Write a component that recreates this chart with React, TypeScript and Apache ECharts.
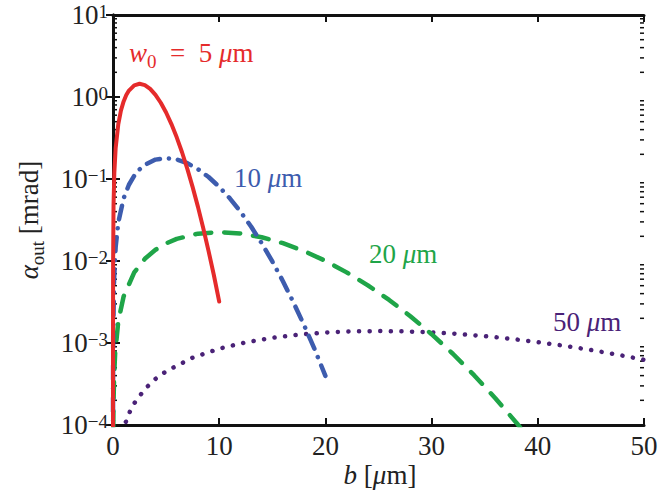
import React, { useEffect, useRef } from "react";
import * as echarts from "echarts";

// ---- data ----
const redB = [0.0001, 0.001, 0.01, 0.05, 0.125, 0.25, 0.5, 0.75, 1, 1.25, 1.5, 2, 2.5, 3, 3.5, 4, 4.5, 5, 5.5, 6, 6.5, 7, 7.5, 8, 8.5, 9, 9.5, 10];
const redA = [9.6e-5, 9.6e-4, 0.0096, 0.0478, 0.119, 0.238, 0.468, 0.686, 0.883, 1.056, 1.198, 1.389, 1.45, 1.396, 1.256, 1.063, 0.851, 0.647, 0.468, 0.322, 0.212, 0.133, 0.0796, 0.0457, 0.0251, 0.0132, 0.0067, 0.0032];

const blueB = [0.001, 0.005, 0.02, 0.1, 0.25, 0.5, 1, 1.5, 2, 2.5, 3, 4, 5, 6, 7, 8, 9, 10, 11, 12, 13, 14, 15, 16, 17, 18, 19, 20];
const blueA = [5.9e-5, 2.97e-4, 1.19e-3, 5.9e-3, 0.0148, 0.0295, 0.0581, 0.0851, 0.1096, 0.131, 0.1487, 0.1724, 0.18, 0.1733, 0.1559, 0.1319, 0.1057, 0.0803, 0.0581, 0.04, 0.0263, 0.0165, 0.00988, 0.00567, 0.00311, 0.00164, 0.00083, 0.000398];

const greenB = [0.005, 0.02, 0.05, 0.1, 0.2, 0.5, 1, 2, 3, 4, 5, 6, 8, 10, 12, 14, 16, 18, 20, 22, 24, 26, 28, 30, 32, 34, 36, 38, 39];
const greenA = [1.85e-5, 7.4e-5, 1.85e-4, 3.7e-4, 7.4e-4, 1.85e-3, 3.69e-3, 7.27e-3, 0.01064, 0.0137, 0.01638, 0.01859, 0.02156, 0.0225, 0.02167, 0.01949, 0.01649, 0.01321, 0.01004, 0.00727, 0.00505, 0.00335, 0.00212, 0.00128, 0.00074, 0.000405, 0.000212, 0.000106, 7.3e-5];

const purpleB = [0.5, 1, 1.5, 2, 3, 4, 5, 7.5, 10, 12.5, 15, 17.5, 20, 22.5, 25, 27.5, 30, 32.5, 35, 37.5, 40, 42.5, 45, 47.5, 50];
const purpleA = [4.6e-5, 9.2e-5, 1.38e-4, 1.84e-4, 2.75e-4, 3.65e-4, 4.52e-4, 6.62e-4, 8.53e-4, 1.019e-3, 1.156e-3, 1.264e-3, 1.341e-3, 1.386e-3, 1.4e-3, 1.386e-3, 1.348e-3, 1.289e-3, 1.212e-3, 1.124e-3, 1.026e-3, 9.25e-4, 8.22e-4, 7.21e-4, 6.24e-4];

const minorMantissas = [2, 3, 4, 5, 6, 7, 8, 9];
const decades = [1e-4, 1e-3, 1e-2, 1e-1, 1];

const xMin = 0;
const xMax = 50;
const xStep = 10;
const yMin = 1e-4;
const yMax = 10;

const RED = "#e52b2b";
const BLUE = "#3d5cae";
const GREEN = "#1fa548";
const PURPLE = "#4a2277";
const INK = "#222";
const FONT = "'Liberation Serif', 'DejaVu Serif', serif";
const SP = "\u00a0";

const zip = (xs: number[], ys: number[]) => xs.map((x, i) => [x, ys[i]]);

const supFmt = (v: number) => {
  const e = Math.round(Math.log10(v));
  const s = e < 0 ? "\u2212" + -e : String(e);
  return `{b|10}{s|${s}}`;
};

const tickRich = {
  b: { fontSize: 27, fontFamily: FONT, color: INK, lineHeight: 26, verticalAlign: "middle" },
  s: { fontSize: 19, fontFamily: FONT, color: INK, lineHeight: 18, verticalAlign: "top" },
};

export default function App() {
  const ref = useRef<HTMLDivElement>(null);
  useEffect(() => {
    if (!ref.current) return;
    const chart = echarts.init(ref.current, null, { renderer: "svg" });
    const minorData: number[][] = [];
    decades.forEach((d) => minorMantissas.forEach((m) => minorData.push([0, m * d])));

    const axisLine = { show: true, lineStyle: { color: "#111", width: 3 } };
    const axisTick = { show: true, inside: true, length: 7, lineStyle: { color: "#111", width: 2 } };

    const mathRich = (color: string) => ({
      i: { fontSize: 27, fontFamily: FONT, fontStyle: "italic", color, lineHeight: 32, verticalAlign: "top" },
      n: { fontSize: 27, fontFamily: FONT, color, lineHeight: 32, verticalAlign: "top" },
      sub: { fontSize: 19, fontFamily: FONT, color, lineHeight: 19, verticalAlign: "bottom" },
    });

    const labelText = (text: string, x: number, y: number, color: string) => ({
      type: "text",
      x,
      y,
      style: {
        text,
        fill: color,
        fontFamily: FONT,
        fontSize: 27,
        verticalAlign: "middle",
        align: "left",
        rich: mathRich(color),
      },
    });

    chart.setOption({
      animation: false,
      backgroundColor: "#fff",
      grid: { left: 113, right: 20, top: 15, bottom: 72, outerBoundsMode: "none", containLabel: false },
      xAxis: [
        {
          type: "value",
          min: xMin,
          max: xMax,
          interval: xStep,
          position: "bottom",
          axisLine,
          axisTick,
          splitLine: { show: false },
          axisLabel: { fontSize: 27, fontFamily: FONT, color: INK, margin: 7 },
        },
        {
          type: "value",
          min: xMin,
          max: xMax,
          interval: xStep,
          position: "top",
          axisLine,
          axisTick,
          splitLine: { show: false },
          axisLabel: { show: false },
        },
      ],
      yAxis: [
        {
          type: "log",
          logBase: 10,
          min: yMin,
          max: yMax,
          position: "left",
          axisLine,
          axisTick,
          splitLine: { show: false },
          axisLabel: { formatter: supFmt, rich: tickRich, margin: 5 },
        },
        {
          type: "log",
          logBase: 10,
          min: yMin,
          max: yMax,
          position: "right",
          axisLine,
          axisTick,
          splitLine: { show: false },
          axisLabel: { show: false },
        },
      ],
      series: [
        {
          type: "custom",
          silent: true,
          coordinateSystem: "cartesian2d",
          data: minorData,
          renderItem: (params: any, api: any) => {
            const p = api.coord([api.value(0), api.value(1)]);
            const cs = params.coordSys;
            return {
              type: "group",
              children: [
                { type: "line", shape: { x1: cs.x, y1: p[1], x2: cs.x + 4, y2: p[1] }, style: { stroke: "#111", lineWidth: 1.5 } },
                { type: "line", shape: { x1: cs.x + cs.width - 4, y1: p[1], x2: cs.x + cs.width, y2: p[1] }, style: { stroke: "#111", lineWidth: 1.5 } },
              ],
            };
          },
        },
        {
          type: "line",
          data: zip(purpleB, purpleA),
          showSymbol: false,
          clip: true,
          lineStyle: { color: PURPLE, width: 4.5, type: [0.1, 10.5], cap: "round" },
        },
        {
          type: "line",
          data: zip(greenB, greenA),
          showSymbol: false,
          clip: true,
          lineStyle: { color: GREEN, width: 4.5, type: [16, 13], cap: "round" },
        },
        {
          type: "line",
          data: zip(blueB, blueA),
          showSymbol: false,
          clip: true,
          lineStyle: { color: BLUE, width: 4.5, type: [14, 9, 0.1, 9], cap: "round" },
        },
        {
          type: "line",
          data: zip(redB, redA),
          showSymbol: false,
          clip: true,
          lineStyle: { color: RED, width: 4, type: "solid", cap: "round" },
        },
      ],
      graphic: [
        labelText(`{i|w}{sub|0}{n|${SP}${SP}=${SP}${SP}5${SP}}{i|\u03bc}{n|m}`, 129, 55, RED),
        labelText(`{n|10${SP}}{i|\u03bc}{n|m}`, 234, 180, BLUE),
        labelText(`{n|20${SP}}{i|\u03bc}{n|m}`, 369, 256, GREEN),
        labelText(`{n|50${SP}}{i|\u03bc}{n|m}`, 553, 324, PURPLE),
        {
          type: "text",
          x: 380,
          y: 477,
          style: {
            text: `{i|b}{n|${SP}[}{i|\u03bc}{n|m]}`,
            rich: mathRich(INK),
            align: "center",
            verticalAlign: "middle",
            fill: INK,
          },
        },
        {
          type: "text",
          x: 31,
          y: 220,
          rotation: Math.PI / 2,
          style: {
            text: `{i|\u03b1}{sub|out}{n|${SP}[mrad]}`,
            rich: mathRich(INK),
            align: "center",
            verticalAlign: "middle",
            fill: INK,
          },
        },
      ],
    });
    return () => chart.dispose();
  }, []);
  return (
    <div
      ref={ref}
      style={{ position: "absolute", left: 0, top: 0, width: 664, height: 497, background: "#fff" }}
    />
  );
}
